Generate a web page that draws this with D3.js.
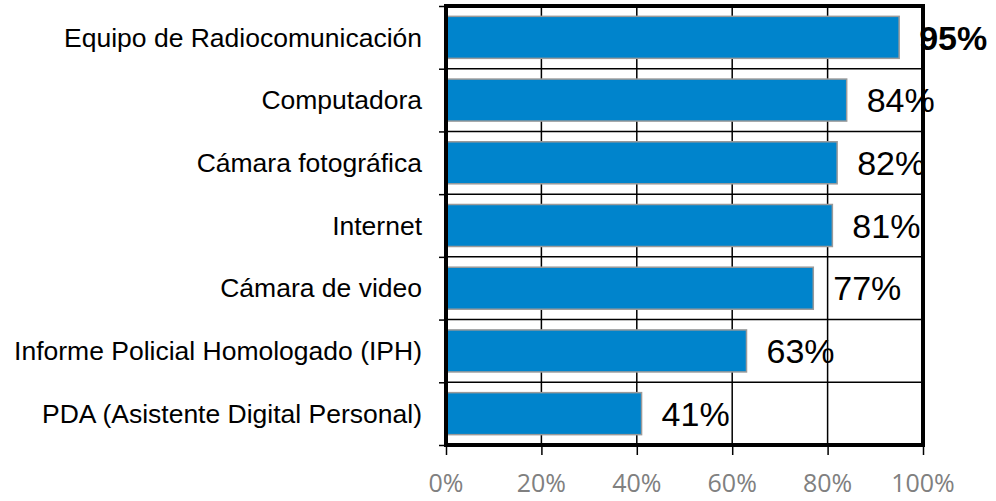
<!DOCTYPE html>
<html>
<head>
<meta charset="utf-8">
<script src="https://cdn.jsdelivr.net/npm/d3@7"></script>
<style>
  body { margin: 0; background: #fff; }
  svg { display: block; }
</style>
</head>
<body>
<div id="chart"></div>
<script>
// categories, top to bottom
const categories = [
  "Equipo de Radiocomunicación",
  "Computadora",
  "Cámara fotográfica ",
  "Internet",
  "Cámara de video",
  "Informe Policial Homologado (IPH)",
  "PDA (Asistente Digital Personal)"
];
const values = [0.95, 0.84, 0.82, 0.81, 0.77, 0.63, 0.41];
const valueLabels = ["95%", "84%", "82%", "81%", "77%", "63%", "41%"];
const boldLabel = [true, false, false, false, false, false, false];
const xTicks = [0, 0.2, 0.4, 0.6, 0.8, 1.0];

const W = 996, H = 501;
const margin = { top: 6, right: 73, bottom: 56, left: 446 };
const w = W - margin.left - margin.right;
const h = H - margin.top - margin.bottom;

const svg = d3.select("#chart").append("svg")
  .attr("width", W)
  .attr("height", H);

const g = svg.append("g")
  .attr("transform", `translate(${margin.left}, ${margin.top})`);

// scales
const x = d3.scaleLinear().domain([0, 1]).range([0, w]);
const y = d3.scaleBand().domain(categories).range([0, h]).paddingInner(0.33).paddingOuter(0.165);
const yIdx = d3.scaleLinear().domain([0, categories.length]).range([0, h]);

// vertical grid lines
g.append("g")
  .selectAll("line")
  .data(xTicks.slice(1, -1))
  .join("line")
    .attr("x1", d => x(d)).attr("x2", d => x(d))
    .attr("y1", 0).attr("y2", h)
    .attr("stroke", "#000")
    .attr("stroke-width", 1.5);

// horizontal grid lines between categories
g.append("g")
  .selectAll("line")
  .data(d3.range(1, categories.length))
  .join("line")
    .attr("x1", 0).attr("x2", w)
    .attr("y1", d => yIdx(d)).attr("y2", d => yIdx(d))
    .attr("stroke", "#000")
    .attr("stroke-width", 1.5);

// bars
g.selectAll(".bar")
  .data(categories)
  .join("rect")
    .attr("class", "bar")
    .attr("x", 0)
    .attr("y", d => y(d))
    .attr("width", (d, i) => x(values[i]))
    .attr("height", y.bandwidth())
    .attr("fill", "#0084CC")
    .attr("stroke", "#9a9a9a")
    .attr("stroke-width", 1.5);

// left axis ticks (at category boundaries)
g.append("g")
  .call(d3.axisLeft(yIdx).tickValues(d3.range(0, categories.length + 1)).tickFormat("").tickSize(7))
  .call(ax => ax.select(".domain").remove())
  .selectAll("line").attr("stroke", "#000").attr("stroke-width", 1.5);

// bottom axis ticks
g.append("g")
  .attr("transform", `translate(0, ${h})`)
  .call(d3.axisBottom(x).tickValues(xTicks).tickFormat("").tickSize(10))
  .call(ax => ax.select(".domain").remove())
  .selectAll("line").attr("stroke", "#000").attr("stroke-width", 1.5);

// frame
g.append("rect")
  .attr("x", 0).attr("y", 0)
  .attr("width", w).attr("height", h)
  .attr("fill", "none")
  .attr("stroke", "#000")
  .attr("stroke-width", 4);

// x tick labels
g.append("g")
  .selectAll("text")
  .data(xTicks)
  .join("text")
    .attr("x", d => x(d))
    .attr("y", h + 47)
    .attr("text-anchor", "middle")
    .attr("font-family", "'Open Sans', sans-serif")
    .attr("font-size", 25)
    .attr("fill", "#808080")
    .text(d => d3.format(".0%")(d));

// category labels
g.append("g")
  .selectAll("text")
  .data(categories)
  .join("text")
    .attr("x", -24)
    .attr("y", d => y(d) + y.bandwidth() / 2)
    .attr("dy", "0.35em")
    .attr("text-anchor", "end")
    .attr("font-family", "'Liberation Sans', Arial, sans-serif")
    .attr("font-size", 26.5)
    .attr("fill", "#000")
    .text(d => d);

// value labels
g.append("g")
  .selectAll("text")
  .data(categories)
  .join("text")
    .attr("x", (d, i) => x(values[i]) + 20)
    .attr("y", d => y(d) + y.bandwidth() / 2)
    .attr("dy", "0.36em")
    .attr("font-family", "'Liberation Sans', Arial, sans-serif")
    .attr("font-size", 34)
    .attr("font-weight", (d, i) => boldLabel[i] ? "bold" : "normal")
    .attr("fill", "#000")
    .text((d, i) => valueLabels[i]);
</script>
</body>
</html>
